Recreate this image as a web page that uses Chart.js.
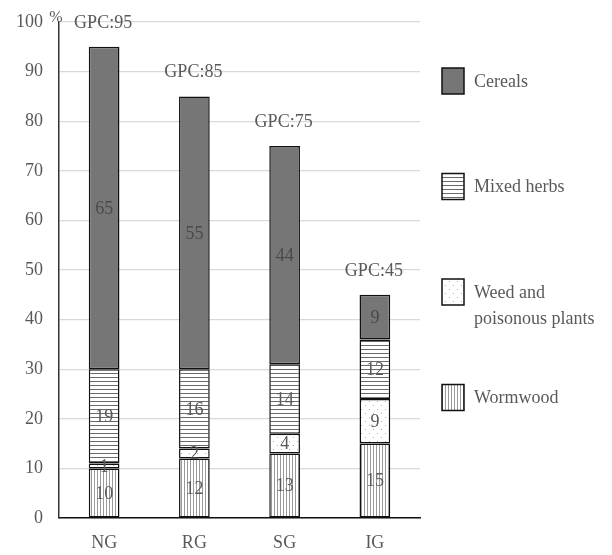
<!DOCTYPE html>
<html>
<head>
<meta charset="utf-8">
<script src="https://cdn.jsdelivr.net/npm/chart.js@4"></script>
<style>
  html, body { margin: 0; padding: 0; background: #fff; }
  #wrap { width: 612px; height: 555px; position: relative; }
</style>
</head>
<body>
<div id="wrap"><canvas id="chart"></canvas></div>
<script>
const categories = ["NG", "RG", "SG", "IG"];
const wormwood = [10, 12, 13, 15];
const weedPoisonous = [1, 2, 4, 9];
const mixedHerbs = [19, 16, 14, 12];
const cereals = [65, 55, 44, 9];
const gpcTotals = [95, 85, 75, 45];
const legendLabels = ["Cereals", "Mixed herbs", ["Weed and", "poisonous plants"], "Wormwood"];

const FONT = "'Liberation Serif', 'Times New Roman', serif";
const TEXT = "#595959";

function makePattern(kind) {
  const c = document.createElement("canvas");
  const ctx = c.getContext("2d");
  if (kind === "vertical") {
    c.width = 3; c.height = 3;
    ctx.fillStyle = "#fff"; ctx.fillRect(0, 0, 3, 3);
    ctx.fillStyle = "#9a9a9a"; ctx.fillRect(1, 0, 1, 3);
  } else if (kind === "horizontal") {
    c.width = 4; c.height = 4;
    ctx.fillStyle = "#fff"; ctx.fillRect(0, 0, 4, 4);
    ctx.fillStyle = "#6a6a6a"; ctx.fillRect(0, 1, 4, 1);
  } else {
    c.width = 8; c.height = 8;
    ctx.fillStyle = "#fff"; ctx.fillRect(0, 0, 8, 8);
    ctx.fillStyle = "#b0b0b0";
    ctx.fillRect(1, 1, 1, 1);
    ctx.fillRect(5, 5, 1, 1);
  }
  return ctx.createPattern(c, "repeat");
}

const fills = {
  wormwood: makePattern("vertical"),
  weed: makePattern("dots"),
  herbs: makePattern("horizontal"),
  cereals: "#767676"
};

const segmentLabels = {
  id: "segmentLabels",
  afterDatasetsDraw(chart) {
    const ctx = chart.ctx;
    ctx.save();
    ctx.font = "18px " + FONT;
    ctx.textAlign = "center";
    ctx.textBaseline = "middle";
    chart.data.datasets.forEach((ds, i) => {
      const meta = chart.getDatasetMeta(i);
      meta.data.forEach((bar, j) => {
        const mid = (bar.y + bar.base) / 2;
        ctx.fillStyle = i === 3 ? "#4a4a4a" : TEXT;
        ctx.fillText(ds.data[j], bar.x, mid + 1);
      });
    });
    // GPC totals over each bar
    const top = chart.getDatasetMeta(chart.data.datasets.length - 1);
    ctx.fillStyle = TEXT;
    top.data.forEach((bar, j) => {
      ctx.fillText("GPC:" + gpcTotals[j], bar.x - 1, bar.y - 24);
    });
    // percent sign by the top tick
    const ya = chart.scales.y;
    ctx.font = "16px " + FONT;
    ctx.fillText("%", ya.right - 3, ya.getPixelForValue(100) - 4);
    ctx.restore();
  }
};

const sideLegend = {
  id: "sideLegend",
  afterDraw(chart) {
    const ctx = chart.ctx;
    const order = [3, 2, 1, 0];
    ctx.save();
    ctx.font = "18px " + FONT;
    ctx.textBaseline = "middle";
    order.forEach((dsIndex, k) => {
      const ds = chart.data.datasets[dsIndex];
      const cy = 81 + k * 105.5;
      const bx = 442, bw = 22, bh = 26;
      ctx.fillStyle = ds.backgroundColor;
      ctx.fillRect(bx, cy - bh / 2, bw, bh);
      ctx.strokeStyle = "#111";
      ctx.lineWidth = 1.5;
      ctx.strokeRect(bx, cy - bh / 2, bw, bh);
      ctx.fillStyle = TEXT;
      const lines = [].concat(legendLabels[k]);
      lines.forEach((t, n) => ctx.fillText(t, 474, cy + n * 26 + 1));
    });
    ctx.restore();
  }
};

function ds(label, data, bg) {
  return {
    label: label,
    data: data,
    backgroundColor: bg,
    borderColor: "#111",
    borderWidth: 1.5,
    borderSkipped: false,
    barPercentage: 0.34,
    categoryPercentage: 1.0
  };
}

new Chart(document.getElementById("chart"), {
  type: "bar",
  data: {
    labels: categories,
    datasets: [
      ds("Wormwood", wormwood, fills.wormwood),
      ds("Weed and poisonous plants", weedPoisonous, fills.weed),
      ds("Mixed herbs", mixedHerbs, fills.herbs),
      ds("Cereals", cereals, fills.cereals)
    ]
  },
  options: {
    responsive: true,
    maintainAspectRatio: false,
    animation: false,
    layout: { padding: { left: 0, right: 192, top: 22, bottom: 0 } },
    plugins: {
      legend: { display: false },
      tooltip: { enabled: false }
    },
    scales: {
      x: {
        stacked: true,
        afterFit(scale) { scale.height = 37; },
        grid: { display: false },
        border: { display: true, color: "#111", width: 1.5 },
        ticks: { color: TEXT, font: { family: FONT, size: 18 }, padding: 6 }
      },
      y: {
        stacked: true,
        min: 0,
        max: 100,
        afterFit(scale) {
          scale.width = 59;
          scale.paddingTop = 0;
          scale.paddingBottom = 0;
        },
        ticks: { stepSize: 10, color: TEXT, font: { family: FONT, size: 18 }, padding: 16 },
        grid: { color: "#d9d9d9", lineWidth: 1.2, drawTicks: false },
        border: { display: true, color: "#333", width: 1.5 }
      }
    }
  },
  plugins: [segmentLabels, sideLegend]
});
</script>
</body>
</html>
